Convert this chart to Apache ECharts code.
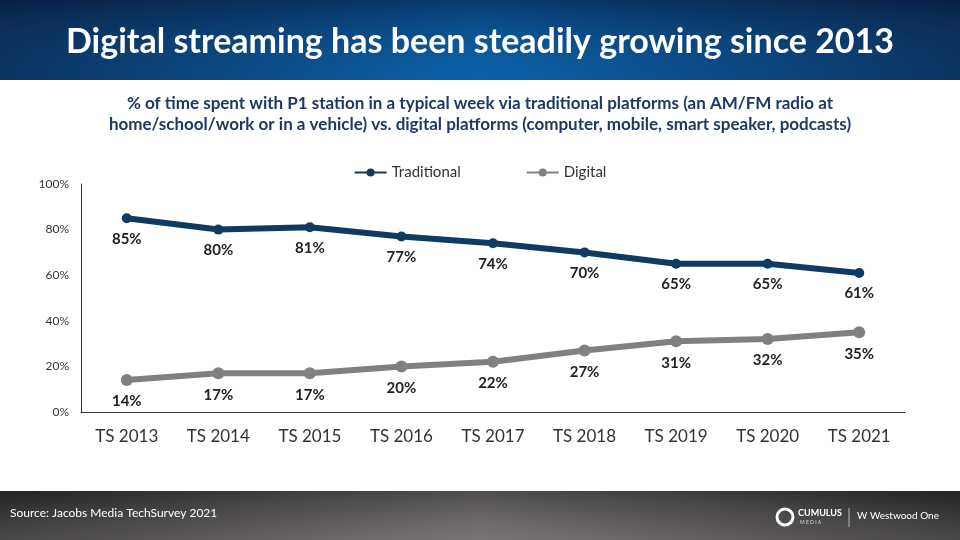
<!DOCTYPE html>
<html><head><meta charset="utf-8">
<script src="https://cdn.jsdelivr.net/npm/echarts@6/dist/echarts.min.js"></script>
<style>html,body{margin:0;padding:0;background:#fff}#c{width:960px;height:540px}</style>
</head><body><div id="c"></div>
<script>
const categories = ['TS 2013','TS 2014','TS 2015','TS 2016','TS 2017','TS 2018','TS 2019','TS 2020','TS 2021'];
const traditional = [85, 80, 81, 77, 74, 70, 65, 65, 61];
const digital = [14, 17, 17, 20, 22, 27, 31, 32, 35];
const seriesNames = ['Traditional', 'Digital'];
const titleText = 'Digital streaming has been steadily growing since 2013';
const subtitleText = '% of time spent with P1 station in a typical week via traditional platforms (an AM/FM radio at\nhome/school/work or in a vehicle) vs. digital platforms (computer, mobile, smart speaker, podcasts)';
const sourceText = 'Source: Jacobs Media TechSurvey 2021';

const chart = echarts.init(document.getElementById('c'), null, {renderer: 'canvas'});
const font = 'Lato, "Open Sans", sans-serif';
const lbl = {show: true, position: 'bottom', distance: 8, formatter: '{c}%', fontFamily: font, fontWeight: 'bold', fontSize: 15, color: '#222'};
const hGrad = (edge, mid) => new echarts.graphic.LinearGradient(0, 0, 1, 0, [
  {offset: 0, color: edge}, {offset: 0.5, color: mid}, {offset: 1, color: edge}]);
chart.setOption({
  animation: false,
  graphic: [
    {type: 'rect', shape: {x: 0, y: 0, width: 960, height: 80}, z: -2,
     style: {fill: hGrad('#0a2850', '#0a5da3')}},
    {type: 'rect', shape: {x: 0, y: 0, width: 960, height: 80}, z: -1,
     style: {fill: new echarts.graphic.LinearGradient(0, 0, 0, 1, [
       {offset: 0, color: 'rgba(5,20,50,0.45)'}, {offset: 1, color: 'rgba(20,120,200,0.15)'}])}},
    {type: 'text', left: 'center', top: 25, style: {text: titleText, fill: '#fff', font: 'bold 34px ' + font}},
    {type: 'text', left: 'center', top: 93, style: {text: subtitleText, fill: '#1f3864', font: 'bold 17px ' + font, textAlign: 'center', lineHeight: 21}},
    {type: 'rect', shape: {x: 0, y: 491, width: 960, height: 49}, z: -2,
     style: {fill: hGrad('#2b2b2b', '#6e6b6b')}},
    {type: 'rect', shape: {x: 0, y: 491, width: 960, height: 49}, z: -1,
     style: {fill: new echarts.graphic.LinearGradient(0, 0, 0, 1, [
       {offset: 0, color: 'rgba(20,20,20,0.35)'}, {offset: 1, color: 'rgba(160,150,150,0.25)'}])}},
    {type: 'text', left: 10, top: 507, style: {text: sourceText, fill: '#fff', font: '12px ' + font}},
    {type: 'circle', shape: {cx: 785, cy: 517, r: 8}, style: {fill: 'none', stroke: '#fff', lineWidth: 3}},
    {type: 'text', left: 798, top: 509, style: {text: 'CUMULUS', fill: '#fff', font: 'bold 9px ' + font}},
    {type: 'text', left: 800, top: 520, style: {text: 'M E D I A', fill: '#ddd', font: '5px ' + font}},
    {type: 'line', shape: {x1: 849, y1: 508, x2: 849, y2: 527}, style: {stroke: '#bbb', lineWidth: 1}},
    {type: 'text', left: 857, top: 511, style: {text: 'W Westwood One', fill: '#fff', font: '10px ' + font}}
  ],
  legend: {
    top: 160, left: 'center', itemGap: 65, itemWidth: 32, itemHeight: 10,
    textStyle: {fontFamily: font, fontSize: 15, color: '#333'},
    data: seriesNames
  },
  grid: {left: 81, right: 55, top: 184, bottom: 128},
  xAxis: {
    type: 'category', data: categories, boundaryGap: true,
    axisLine: {lineStyle: {color: '#333', width: 1}},
    axisTick: {show: false},
    axisLabel: {fontFamily: font, fontSize: 17, color: '#333', margin: 16}
  },
  yAxis: {
    type: 'value', min: 0, max: 100, interval: 20,
    axisLine: {show: true, lineStyle: {color: '#333', width: 1}},
    axisTick: {show: false}, splitLine: {show: false},
    axisLabel: {formatter: '{value}%', fontFamily: font, fontSize: 12, color: '#333', margin: 12}
  },
  series: [
    {name: seriesNames[0], type: 'line', data: traditional, symbol: 'circle', symbolSize: 10,
     lineStyle: {width: 6, color: '#0e3a64'}, itemStyle: {color: '#0e3a64'}, label: lbl},
    {name: seriesNames[1], type: 'line', data: digital, symbol: 'circle', symbolSize: 12,
     lineStyle: {width: 6, color: '#808080'}, itemStyle: {color: '#808080'}, label: lbl}
  ]
});
</script></body></html>
